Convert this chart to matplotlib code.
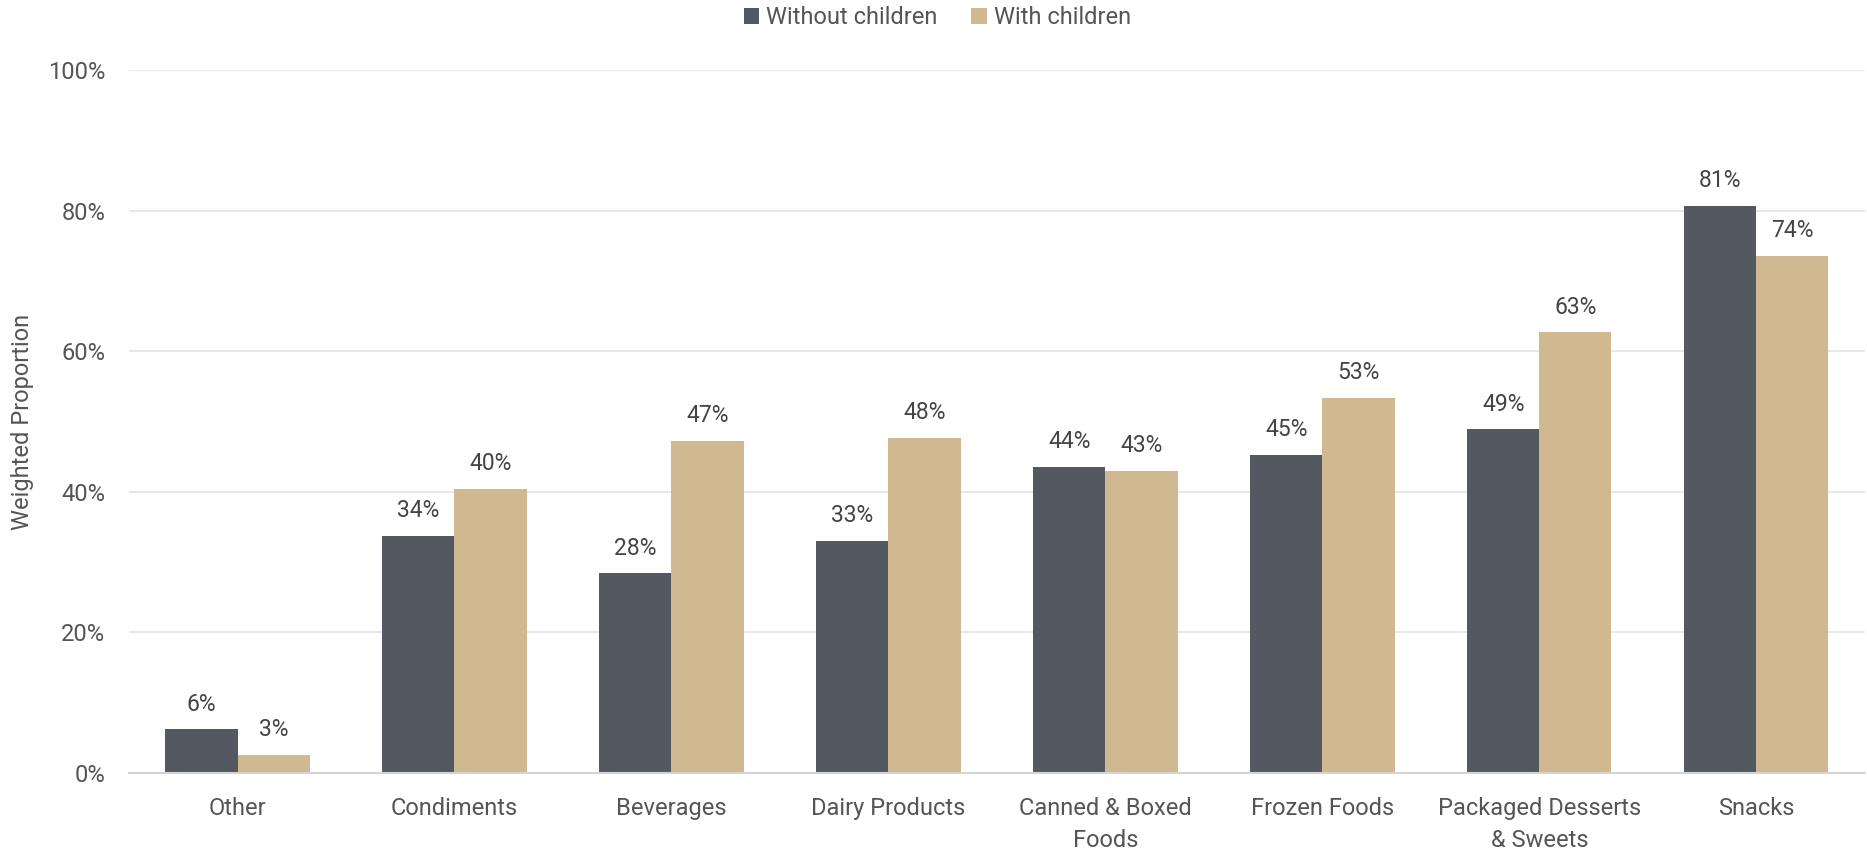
import numpy as np
import matplotlib.pyplot as plt
from matplotlib.ticker import PercentFormatter

plt.rcParams['font.family'] = ['Roboto', 'DejaVu Sans']

categories = ['Other', 'Condiments', 'Beverages', 'Dairy Products',
              'Canned & Boxed\nFoods', 'Frozen Foods',
              'Packaged Desserts\n& Sweets', 'Snacks']
without_children = [6.2, 33.7, 28.4, 33.0, 43.6, 45.3, 48.9, 80.7]
with_children = [2.6, 40.4, 47.2, 47.7, 43.0, 53.4, 62.7, 73.6]

series_names = ['Without children', 'With children']
colors = ['#545861', '#D0B990']

fig = plt.figure(figsize=(18.67, 8.51), dpi=100)
ax = fig.add_axes([0.0691, 0.0917, 0.9298, 0.8256])

x = np.arange(len(categories))
width = 0.332

for i, (vals, name, c) in enumerate(zip([without_children, with_children], series_names, colors)):
    b = ax.bar(x + (i - 0.5) * width, vals, width, color=c, label=name, zorder=3)
    for rect, v in zip(b, vals):
        ax.annotate('{:.0f}%'.format(v), (rect.get_x() + rect.get_width() / 2, v),
                    xytext=(0, 10), textcoords='offset points',
                    ha='center', va='bottom', fontsize=16.5, color='#444444')

ax.set_xlim(-0.5, len(categories) - 0.5)
ax.set_ylim(0, 100)
ax.set_yticks(np.arange(0, 101, 20))
ax.yaxis.set_major_formatter(PercentFormatter(decimals=0))
ax.set_xticks(x)
ax.set_xticklabels(categories, linespacing=1.5)

ax.grid(axis='y', color='#e6e6e6', linewidth=1.3, zorder=0)
for s in ['top', 'right', 'left']:
    ax.spines[s].set_visible(False)
ax.spines['bottom'].set_color('#d4d4d4')
ax.spines['bottom'].set_linewidth(1.5)
ax.spines['bottom'].set_zorder(4)

ax.tick_params(axis='both', length=0, labelsize=17, colors='#555555')
ax.tick_params(axis='x', pad=17)
ax.tick_params(axis='y', pad=17)

ax.set_ylabel('Weighted Proportion', fontsize=17, color='#555555', labelpad=10)

fig.legend(loc='center', bbox_to_anchor=(0.502, 0.979), ncol=2, frameon=False,
           fontsize=17, labelcolor='#555555', handlelength=0.64, handleheight=0.64,
           handletextpad=0.3, columnspacing=1.45, borderaxespad=0)

fig.savefig('out.png', dpi=100)
